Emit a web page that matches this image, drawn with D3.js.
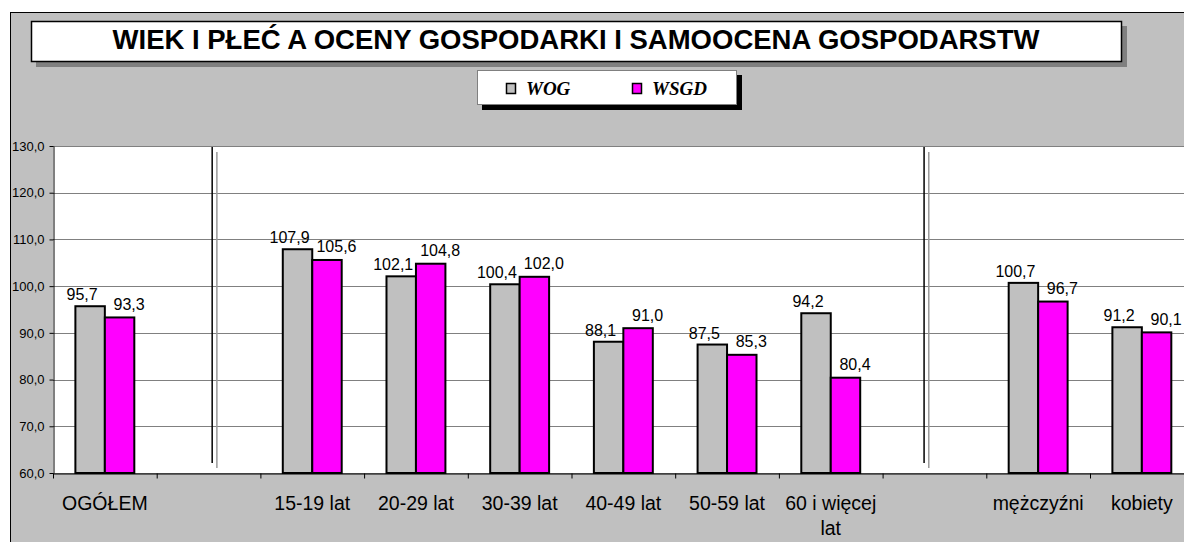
<!DOCTYPE html>
<html>
<head>
<meta charset="utf-8">
<script src="https://cdn.jsdelivr.net/npm/d3@7"></script>
<style>
body { margin: 0; background: #fff; }
text { font-family: Arial, "Liberation Sans", sans-serif; }
</style>
</head>
<body>
<svg id="canvas"></svg>
<script>
// data
let categories = ['OGÓŁEM', '', '15-19 lat', '20-29 lat', '30-39 lat', '40-49 lat', '50-59 lat', '60 i więcej\nlat', '', 'mężczyźni', 'kobiety'];
let wogValues = [95.7, null, 107.9, 102.1, 100.4, 88.1, 87.5, 94.2, null, 100.7, 91.2];
let wsgdValues = [93.3, null, 105.6, 104.8, 102.0, 91.0, 85.3, 80.4, null, 96.7, 90.1];
let seriesNames = ['WOG', 'WSGD'];
let seriesColors = ['#c0c0c0', '#ff00ff'];
let yTicks = [60, 70, 80, 90, 100, 110, 120, 130];
let titleText = 'WIEK I PŁEĆ A OCENY GOSPODARKI I SAMOOCENA GOSPODARSTW';
// blank categories carrying a double divider, with where inside the band it sits
let dividers = [{ index: 1, at: 0.535 }, { index: 8, at: 0.4 }];

let width = 1184;
let height = 542;
let plotLeft = 53;
let plotTop = 146;
let plotBottom = 473;
let bandW = 103.7;
let plotRight = plotLeft + categories.length * bandW;

let canvas = d3.select('#canvas')
    .attr('width', width)
    .attr('height', height);

let fmt = (v) => d3.format('.1f')(v).replace('.', ',');

let xScale = d3.scaleBand()
    .domain(d3.range(categories.length))
    .range([plotLeft, plotRight]);

let xSub = d3.scaleBand()
    .domain(seriesNames)
    .range([0, xScale.bandwidth()])
    .paddingOuter(0.76);

let yScale = d3.scaleLinear()
    .domain([60, 130])
    .range([plotBottom, plotTop]);

// outer grey chart area
canvas.append('rect')
    .attr('x', 10.5).attr('y', 12.5)
    .attr('width', width).attr('height', height)
    .attr('fill', '#c0c0c0')
    .attr('stroke', '#000');

// title box
canvas.append('rect')
    .attr('x', 36).attr('y', 26)
    .attr('width', 1091).attr('height', 41)
    .attr('fill', '#808080');
canvas.append('rect')
    .attr('x', 31.5).attr('y', 21.5)
    .attr('width', 1090).attr('height', 40)
    .attr('fill', '#fff')
    .attr('stroke', '#000')
    .attr('stroke-width', 1.5);
canvas.append('text')
    .attr('x', 576)
    .attr('y', 48.5)
    .attr('text-anchor', 'middle')
    .style('font-size', '27.5px')
    .style('font-weight', 'bold')
    .text(titleText);

// legend
let legend = canvas.append('g');
legend.append('rect')
    .attr('x', 482).attr('y', 75)
    .attr('width', 260).attr('height', 35)
    .attr('fill', '#000');
legend.append('rect')
    .attr('x', 477.5).attr('y', 70.5)
    .attr('width', 259).attr('height', 34)
    .attr('fill', '#fff')
    .attr('stroke', '#808080');
let legendX = [506, 632];
seriesNames.forEach((name, i) => {
    legend.append('rect')
        .attr('x', legendX[i] + 0.5).attr('y', 83.5)
        .attr('width', 9).attr('height', 10)
        .attr('fill', seriesColors[i])
        .attr('stroke', '#000')
        .attr('stroke-width', 1.5);
    legend.append('text')
        .attr('x', legendX[i] + 20)
        .attr('y', 94.5)
        .style('font-family', '"Liberation Serif", "Times New Roman", serif')
        .style('font-style', 'italic')
        .style('font-weight', 'bold')
        .style('font-size', '19px')
        .text(name);
});

// plot area
canvas.append('rect')
    .attr('x', plotLeft).attr('y', plotTop)
    .attr('width', plotRight - plotLeft).attr('height', plotBottom - plotTop)
    .attr('fill', '#fff');

canvas.append('g')
    .selectAll('line')
    .data(yTicks)
    .enter()
    .append('line')
    .attr('x1', plotLeft).attr('x2', plotRight)
    .attr('y1', (d) => Math.round(yScale(d)) + 0.5)
    .attr('y2', (d) => Math.round(yScale(d)) + 0.5)
    .attr('stroke', '#808080');

// dividers
dividers.forEach((d) => {
    let x0 = xScale(d.index) + d.at * bandW;
    canvas.append('line')
        .attr('x1', x0).attr('x2', x0)
        .attr('y1', plotTop + 1).attr('y2', plotBottom - 10)
        .attr('stroke', '#000').attr('stroke-width', 1.5);
    canvas.append('line')
        .attr('x1', x0 + 4.7).attr('x2', x0 + 4.7)
        .attr('y1', plotTop + 6).attr('y2', plotBottom - 5)
        .attr('stroke', '#999').attr('stroke-width', 1.5);
});

// bars and value labels, series by series
let series = [wogValues, wsgdValues];
let labelShift = [-8, 9.5];
let labelLift = [6, 7.5];
series.forEach((values, s) => {
    let rows = values.map((v, i) => ({ i: i, v: v })).filter((d) => d.v != null);
    canvas.append('g')
        .selectAll('rect')
        .data(rows)
        .enter()
        .append('rect')
        .attr('x', (d) => xScale(d.i) + xSub(seriesNames[s]))
        .attr('y', (d) => yScale(d.v))
        .attr('width', xSub.bandwidth())
        .attr('height', (d) => yScale(60) - yScale(d.v))
        .attr('fill', seriesColors[s])
        .attr('stroke', '#000')
        .attr('stroke-width', 2);
    canvas.append('g')
        .selectAll('text')
        .data(rows)
        .enter()
        .append('text')
        .attr('x', (d) => xScale(d.i) + xSub(seriesNames[s]) + xSub.bandwidth() / 2 + labelShift[s])
        .attr('y', (d) => yScale(d.v) - labelLift[s])
        .attr('text-anchor', 'middle')
        .style('font-size', '16px')
        .text((d) => fmt(d.v));
});

// y axis
let yAxis = d3.axisLeft(yScale)
    .tickValues(yTicks)
    .tickSize(4)
    .tickSizeOuter(0)
    .tickPadding(5)
    .tickFormat(fmt);
let gy = canvas.append('g')
    .attr('transform', 'translate(' + (plotLeft + 0.5) + ',0)')
    .call(yAxis);
gy.selectAll('text')
    .style('font-size', '13px');

// x axis, ticks on category boundaries
let xEdges = d3.scaleLinear()
    .domain([0, categories.length])
    .range([plotLeft, plotRight]);
let xAxis = d3.axisBottom(xEdges)
    .tickValues(d3.range(categories.length + 1))
    .tickSize(5)
    .tickSizeOuter(0)
    .tickFormat('');
canvas.append('g')
    .attr('transform', 'translate(0,' + (plotBottom + 0.5) + ')')
    .call(xAxis);

// category labels
let catLabels = canvas.append('g')
    .selectAll('text')
    .data(categories)
    .enter()
    .append('text')
    .attr('text-anchor', 'middle')
    .style('font-size', '19.5px')
    .attr('y', 510);
catLabels.each(function (label, i) {
    let lines = label.split('\n');
    lines.forEach((line, k) => {
        d3.select(this).append('tspan')
            .attr('x', xScale(i) + xScale.bandwidth() / 2)
            .attr('dy', k === 0 ? 0 : 25)
            .text(line);
    });
});
</script>
</body>
</html>
